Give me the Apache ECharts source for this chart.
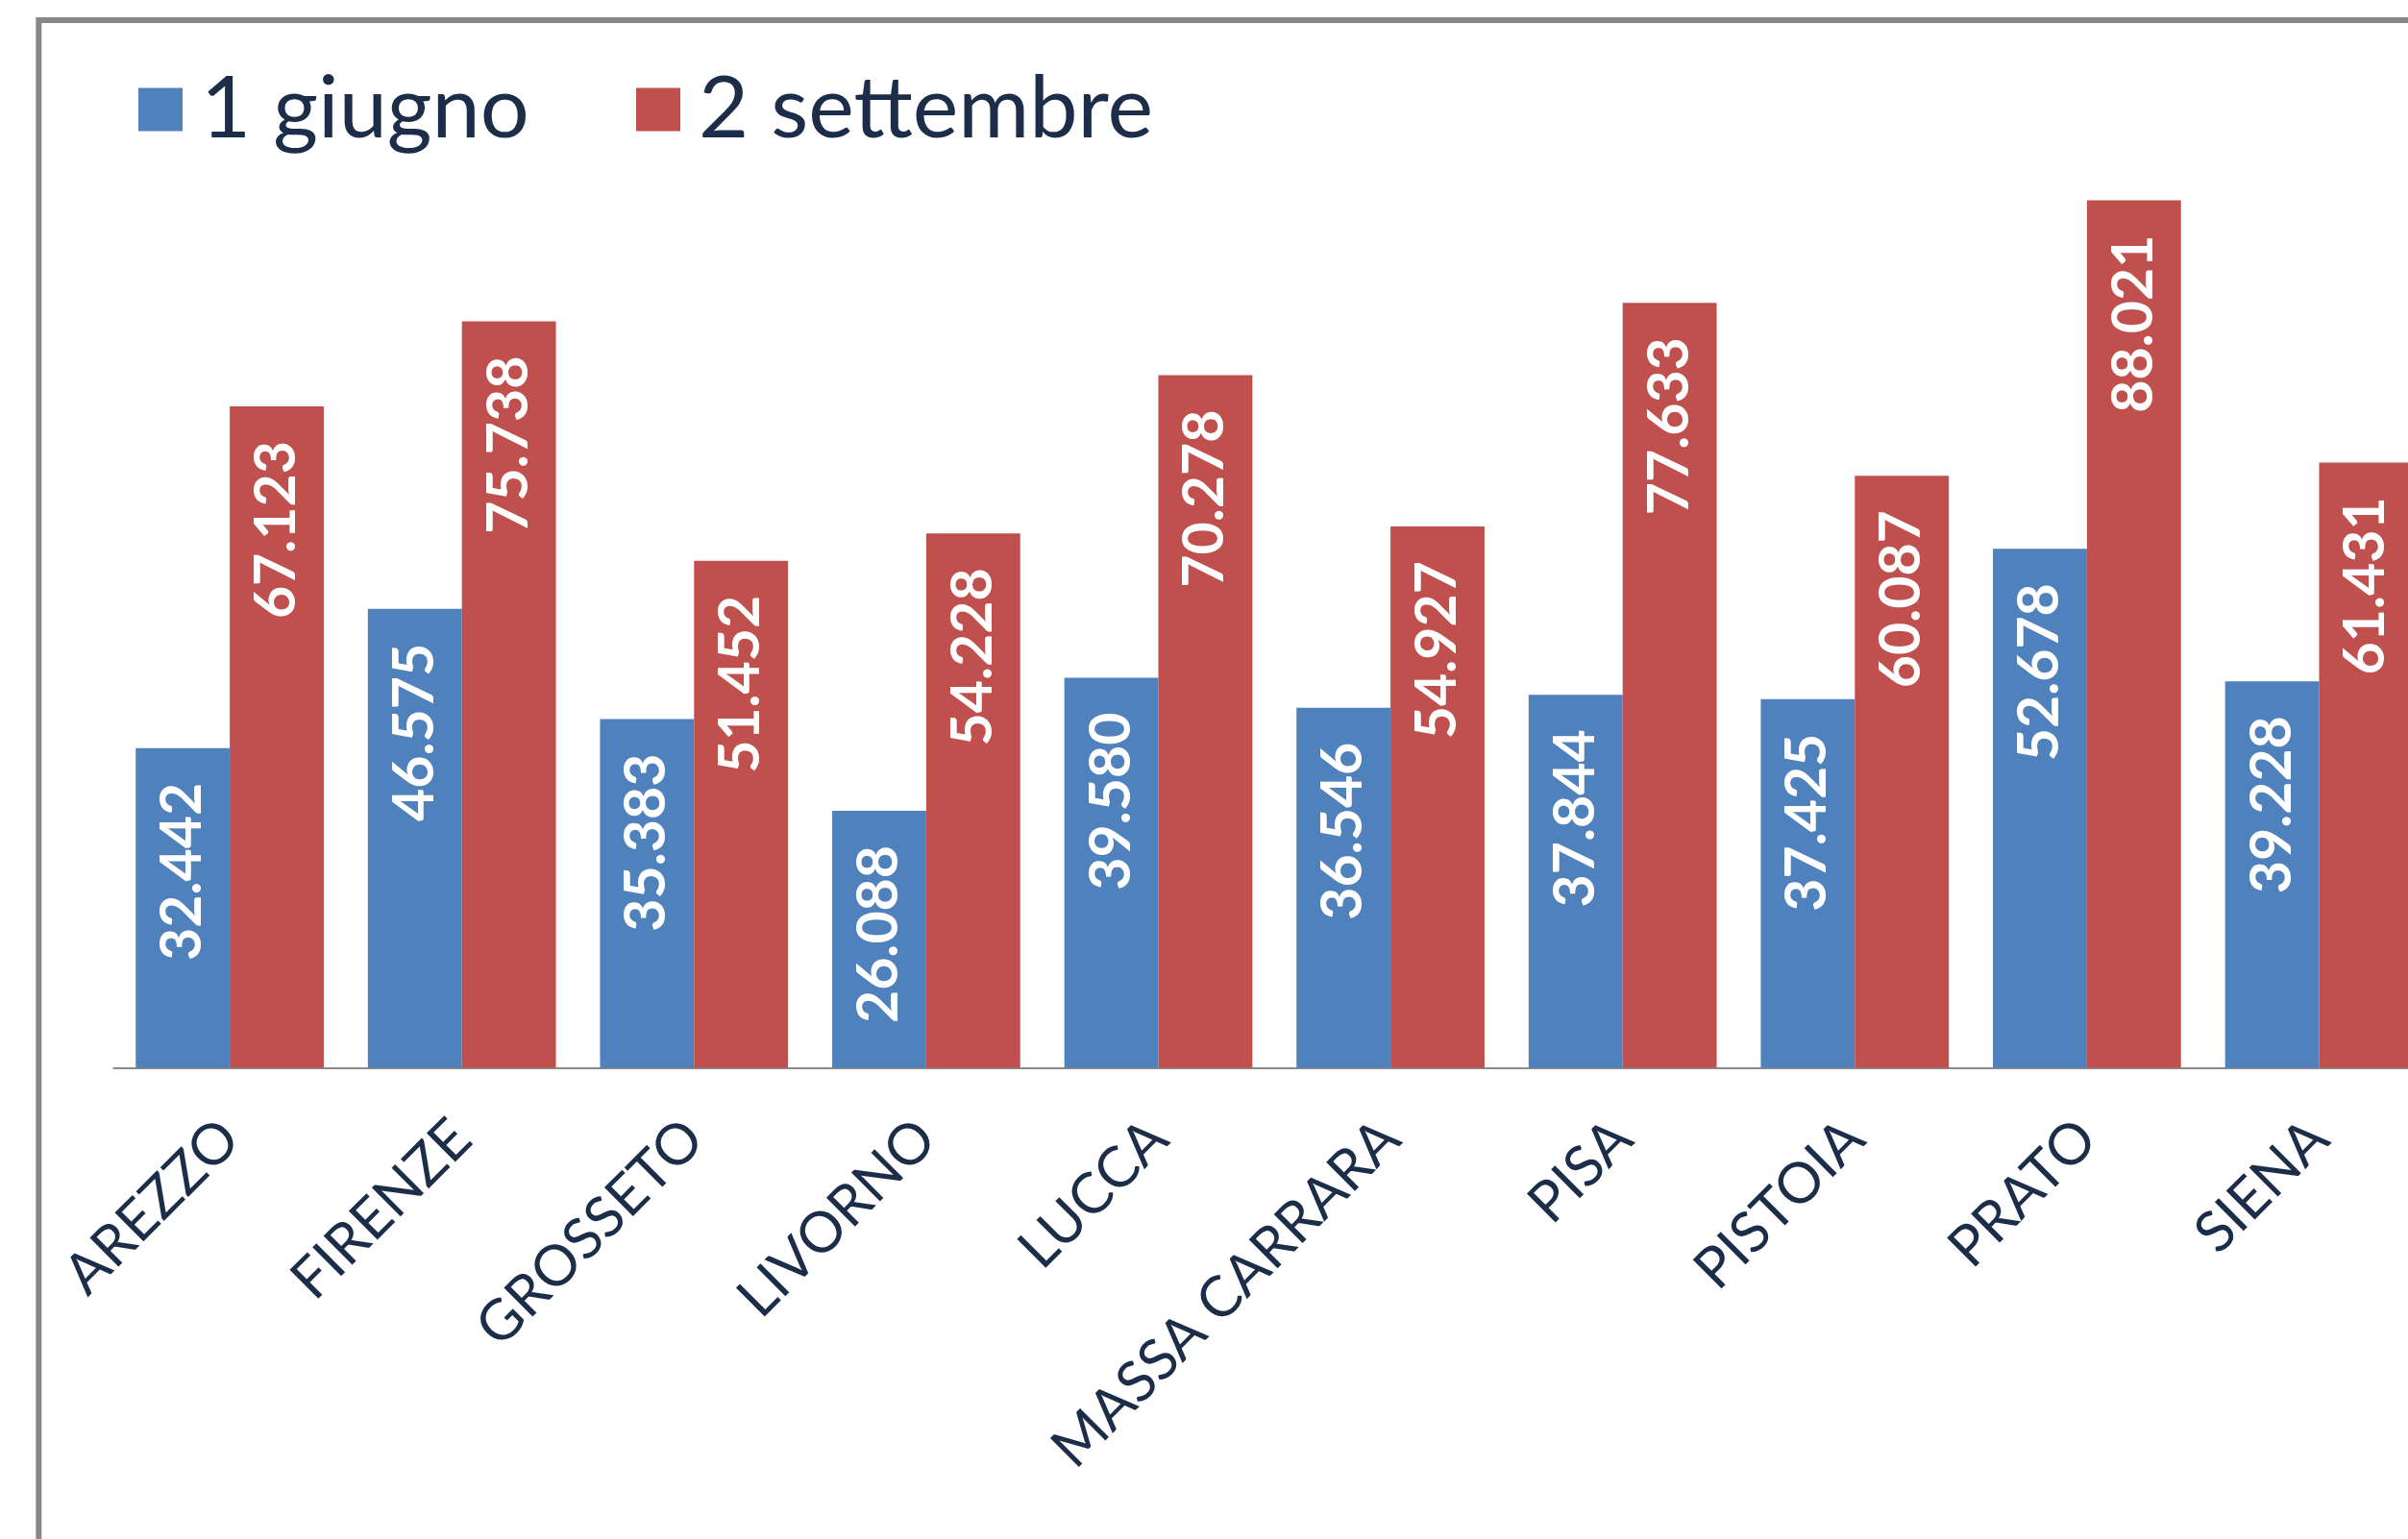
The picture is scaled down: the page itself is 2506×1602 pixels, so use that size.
<!DOCTYPE html>
<html>
<head>
<meta charset="utf-8">
<script src="https://cdn.jsdelivr.net/npm/echarts@6/dist/echarts.min.js"></script>
<style>
    html, body { margin: 0; padding: 0; background: #ffffff; }
    #chart { width: 2506px; height: 1602px; }
</style>
</head>
<body>
<div id="chart"></div>
<script>
// dati
var province = ['AREZZO', 'FIRENZE', 'GROSSETO', 'LIVORNO', 'LUCCA', 'MASSA CARRARA', 'PISA', 'PISTOIA', 'PRATO', 'SIENA'];
var giugno = [32.442, 46.575, 35.383, 26.088, 39.580, 36.546, 37.844, 37.425, 52.678, 39.228];
var settembre = [67.123, 75.738, 51.452, 54.228, 70.278, 54.927, 77.633, 60.087, 88.021, 61.431];
var serieNomi = ['1 giugno', '2 settembre'];

document.addEventListener('DOMContentLoaded', function () {
    var chart = echarts.init(document.getElementById('chart'));
    var testo = '#1c2d4a';

    var etichetta = {
        show: true,
        position: 'insideTop',
        distance: 36,
        rotate: 90,
        align: 'right',
        verticalAlign: 'middle',
        color: '#ffffff',
        fontFamily: 'Lato',
        fontWeight: 'bold',
        fontSize: 59,
        formatter: function (p) {
            return p.value.toFixed(3);
        }
    };

    var legenda = function (nome, left) {
        return {
            data: [nome],
            left: left,
            top: 64,
            icon: 'rect',
            itemWidth: 46,
            itemHeight: 45,
            textStyle: {
                fontFamily: 'Lato',
                fontSize: 90,
                color: testo,
                padding: [20, 0, 0, 14]
            }
        };
    };

    var option = {
        animation: false,
        graphic: [{
            type: 'rect',
            shape: { x: 40.3, y: 21, width: 3000, height: 3000 },
            style: { fill: null, stroke: '#888888', lineWidth: 6 },
            z: 0
        }],
        legend: [legenda(serieNomi[0], 139), legenda(serieNomi[1], 657)],
        grid: {
            left: 118.3,
            top: 85.7,
            width: 2416,
            height: 1025.9,
            outerBoundsMode: 'none'
        },
        xAxis: {
            type: 'category',
            data: province,
            axisLine: { lineStyle: { color: '#8c8c8c', width: 2 } },
            axisTick: { length: 19, lineStyle: { color: '#8c8c8c', width: 2 } },
            axisLabel: {
                rotate: 45,
                margin: 64,
                interval: 0,
                color: testo,
                fontFamily: 'Lato',
                fontSize: 59
            }
        },
        yAxis: {
            type: 'value',
            min: 0,
            max: 100,
            show: false,
            splitLine: { show: false }
        },
        series: [
            {
                name: serieNomi[0],
                type: 'bar',
                data: giugno,
                barGap: '0%',
                barCategoryGap: '19%',
                itemStyle: { color: '#4f81bd' },
                label: etichetta
            },
            {
                name: serieNomi[1],
                type: 'bar',
                data: settembre,
                barGap: '0%',
                barCategoryGap: '19%',
                itemStyle: { color: '#c0504d' },
                label: etichetta
            }
        ]
    };

    chart.setOption(option);
    window.addEventListener('resize', function () {
        chart.resize();
    });
});
</script>
</body>
</html>
